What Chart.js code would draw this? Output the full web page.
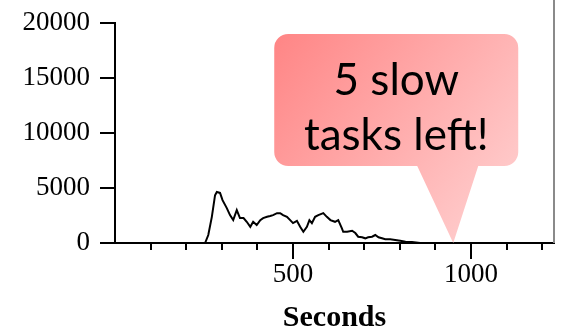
<!DOCTYPE html>
<html>
<head>
<meta charset="utf-8">
<script src="https://cdn.jsdelivr.net/npm/chart.js@4/dist/chart.umd.min.js"></script>
<style>
html,body{margin:0;padding:0;background:#fff;}
#wrap{width:561px;height:331px;}
</style>
</head>
<body>
<div id="wrap"><canvas id="c" width="561" height="331"></canvas></div>
<script>
// Data
const seconds = [0, 250, 253, 262, 272, 281, 286, 295, 302, 314, 323, 332, 342, 351, 361, 370, 380, 388, 398, 408, 416, 427, 436, 444, 455, 464, 472, 483, 492, 500, 511, 520, 529, 539, 546, 553, 562, 571, 585, 595, 605, 618, 627, 637, 641, 652, 666, 675, 683, 694, 703, 711, 722, 731, 740, 750, 759, 773, 787, 801, 816, 834, 857, 1233];
const tasks   = [0, 0, 0, 724, 2380, 4344, 4643, 4552, 3892, 3168, 2534, 2082, 2987, 2263, 2263, 1928, 1475, 1928, 1629, 2082, 2263, 2380, 2450, 2534, 2715, 2715, 2534, 2380, 2082, 1810, 2018, 1475, 1023, 1475, 2082, 1810, 2380, 2534, 2715, 2380, 2082, 1928, 2082, 1358, 1023, 1023, 1113, 905, 570, 516, 425, 516, 570, 724, 516, 425, 335, 335, 271, 208, 118, 90, 0, 0];
const xMin = 0, xMax = 1233, xMinorStep = 100;
const xLabelTicks = [500, 1000];
const yTicks = [0, 5000, 10000, 15000, 20000];
const xTitle = 'Seconds';
const calloutLines = ['5 slow', 'tasks left!'];
const calloutTipX = 950, calloutTipY = 0;
const endMarkerX = 1233;

const serif = "'Liberation Serif','DejaVu Serif',serif";

const tickPlugin = {
  id: 'ticksAndCallout',
  afterDraw(chart) {
    const ctx = chart.ctx;
    const xs = chart.scales.x, ys = chart.scales.y;
    const ca = chart.chartArea;
    ctx.save();
    // end marker line (gray)
    const ex = xs.getPixelForValue(endMarkerX);
    ctx.strokeStyle = '#8a8a8a';
    ctx.lineWidth = 2;
    ctx.beginPath();
    ctx.moveTo(ex, 0);
    ctx.lineTo(ex, ca.bottom);
    ctx.stroke();
    // x ticks
    ctx.strokeStyle = '#000';
    ctx.lineWidth = 2;
    for (let v = xMinorStep; v <= xMax; v += xMinorStep) {
      const px = Math.round(xs.getPixelForValue(v));
      const len = xLabelTicks.includes(v) ? 16 : 7;
      ctx.beginPath();
      ctx.moveTo(px, ca.bottom);
      ctx.lineTo(px, ca.bottom + len);
      ctx.stroke();
    }
    // y ticks
    for (const v of yTicks) {
      const py = Math.round(ys.getPixelForValue(v));
      ctx.beginPath();
      ctx.moveTo(ca.left - 15, py);
      ctx.lineTo(ca.left, py);
      ctx.stroke();
    }
    // callout
    const tx = xs.getPixelForValue(calloutTipX);
    const ty = ys.getPixelForValue(calloutTipY);
    const bx0 = tx - 179, bx1 = tx + 65, by0 = 34, by1 = 166, r = 14;
    const g = ctx.createLinearGradient(bx0, by0, bx1, ty - 20);
    g.addColorStop(0, '#ff8585');
    g.addColorStop(1, '#ffd2d2');
    ctx.fillStyle = g;
    ctx.beginPath();
    ctx.moveTo(bx0 + r, by0);
    ctx.lineTo(bx1 - r, by0);
    ctx.arcTo(bx1, by0, bx1, by0 + r, r);
    ctx.lineTo(bx1, by1 - r);
    ctx.arcTo(bx1, by1, bx1 - r, by1, r);
    ctx.lineTo(tx + 25, by1);
    ctx.lineTo(tx, ty);
    ctx.lineTo(tx - 36, by1);
    ctx.lineTo(bx0 + r, by1);
    ctx.arcTo(bx0, by1, bx0, by1 - r, r);
    ctx.lineTo(bx0, by0 + r);
    ctx.arcTo(bx0, by0, bx0 + r, by0, r);
    ctx.closePath();
    ctx.fill();
    ctx.fillStyle = '#000';
    ctx.font = "44px Lato, 'Open Sans', sans-serif";
    ctx.textAlign = 'center';
    ctx.textBaseline = 'alphabetic';
    const cx = (bx0 + bx1) / 2;
    ctx.fillText(calloutLines[0], cx, 95);
    ctx.fillText(calloutLines[1], cx, 150);
    ctx.restore();
  }
};

new Chart(document.getElementById('c'), {
  type: 'line',
  data: {
    datasets: [{
      data: seconds.map((s, i) => ({x: s, y: tasks[i]})),
      borderColor: '#000',
      borderWidth: 2,
      pointRadius: 0,
      tension: 0,
      fill: false
    }]
  },
  options: {
    responsive: false,
    animation: false,
    events: [],
    layout: {padding: {top: 23, right: 7, left: 0, bottom: 0}},
    plugins: {legend: {display: false}, tooltip: {enabled: false}},
    scales: {
      x: {
        type: 'linear', min: xMin, max: xMax,
        grid: {display: false, drawTicks: false},
        border: {display: true, color: '#000', width: 2},
        ticks: {
          stepSize: xMinorStep, autoSkip: false, maxRotation: 0,
          padding: 16, color: '#000',
          font: {family: serif, size: 27},
          callback: v => xLabelTicks.includes(v) ? String(v) : ''
        },
        title: {display: true, text: xTitle, color: '#000', font: {family: serif, size: 30, weight: 'bold'}, padding: {top: 0, bottom: -5}},
        afterFit: s => { s.height = 88; s.paddingLeft = 0; s.paddingRight = 0; }
      },
      y: {
        type: 'linear', min: 0, max: 20000,
        grid: {display: false, drawTicks: false},
        border: {display: true, color: '#000', width: 2},
        afterBuildTicks: s => { s.ticks = yTicks.map(v => ({value: v})); },
        ticks: {padding: 25, color: '#000', font: {family: serif, size: 27}, callback: v => String(v)},
        afterFit: s => { s.width = 115; s.paddingTop = 0; s.paddingBottom = 0; }
      }
    }
  },
  plugins: [tickPlugin]
});
</script>
</body>
</html>
